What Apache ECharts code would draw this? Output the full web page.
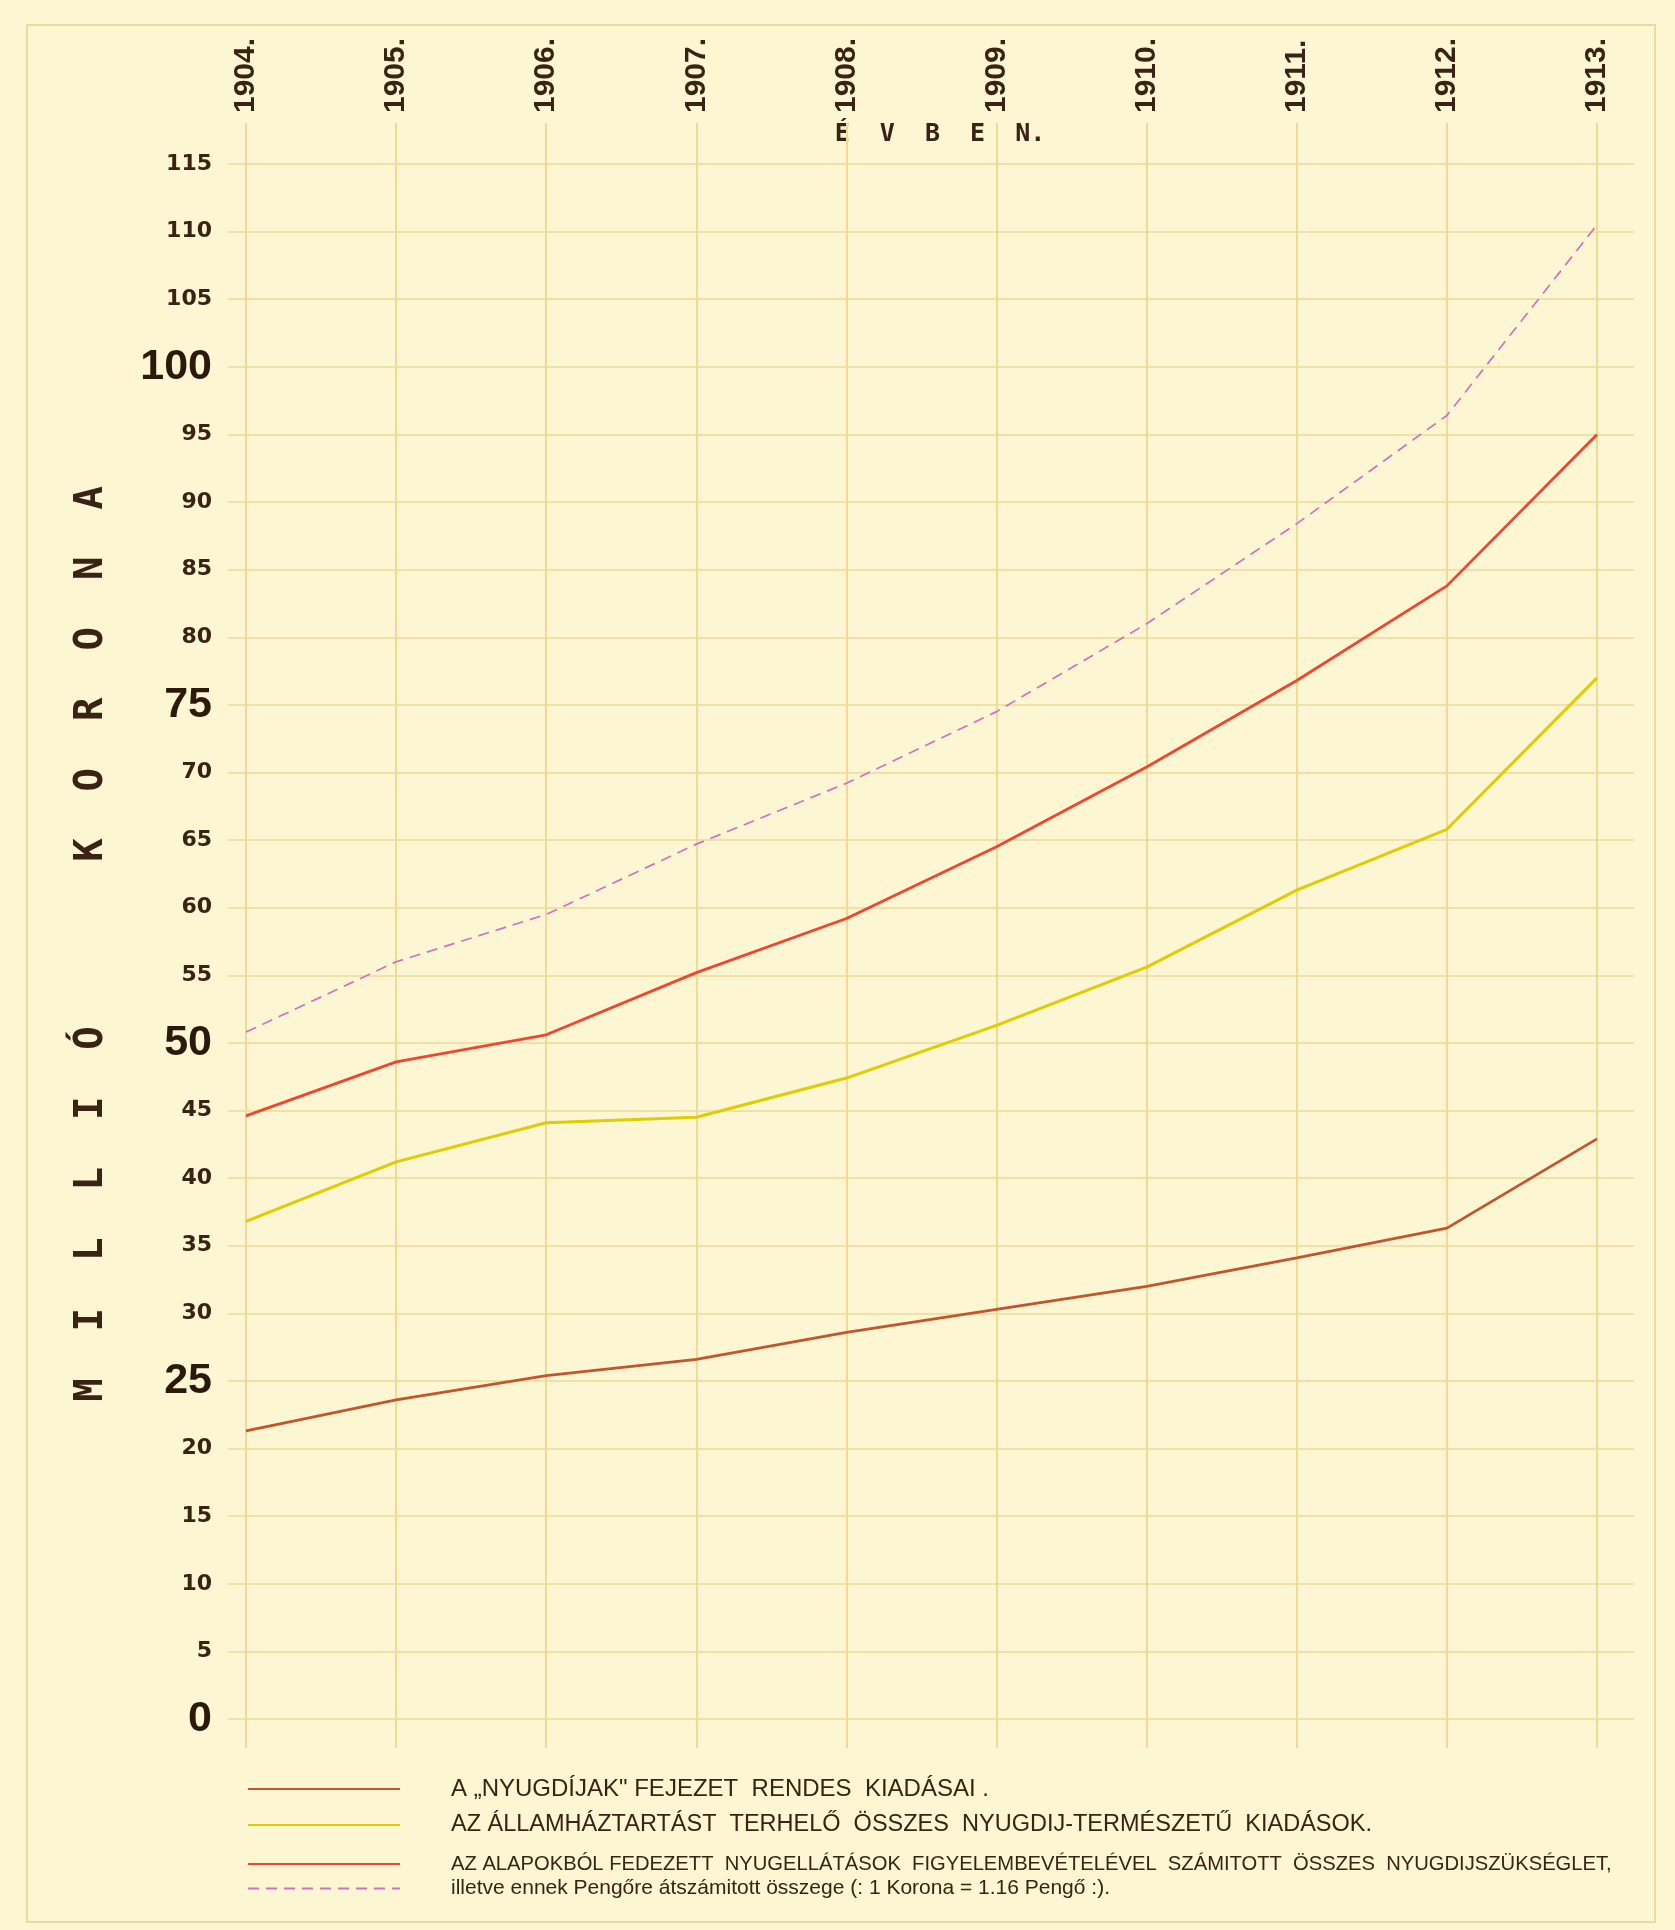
<!DOCTYPE html>
<html>
<head>
<meta charset="utf-8">
<script src="https://cdn.jsdelivr.net/npm/echarts@6/dist/echarts.min.js"></script>
<style>
html,body{margin:0;padding:0;background:#fcf6d3;}
#chart{width:1675px;height:1930px;}
</style>
</head>
<body>
<div id="chart"></div>
<script>
// ---- data (millió korona) ----
const years = ['1904', '1905', '1906', '1907', '1908', '1909', '1910', '1911', '1912', '1913'];
const rendesKiadasai = [21.3, 23.6, 25.4, 26.6, 28.6, 30.3, 32.0, 34.1, 36.3, 42.9];
const osszesKiadasok = [36.8, 41.2, 44.1, 44.5, 47.4, 51.3, 55.6, 61.3, 65.8, 77.0];
const osszesSzukseglet = [44.6, 48.6, 50.6, 55.2, 59.2, 64.5, 70.4, 76.8, 83.8, 95.0];
const pengoSzukseglet = [50.8, 56.0, 59.5, 64.7, 69.2, 74.5, 81.0, 88.4, 96.4, 110.5];
const bigTicks = [0, 25, 50, 75, 100];

const names = [
  'A „NYUGDÍJAK" FEJEZET  RENDES  KIADÁSAI .',
  'AZ ÁLLAMHÁZTARTÁST  TERHELŐ  ÖSSZES  NYUGDIJ-TERMÉSZETŰ  KIADÁSOK.',
  'AZ ALAPOKBÓL FEDEZETT  NYUGELLÁTÁSOK  FIGYELEMBEVÉTELÉVEL  SZÁMITOTT  ÖSSZES  NYUGDIJSZÜKSÉGLET,',
  'illetve ennek Pengőre átszámitott összege (: 1 Korona = 1.16 Pengő :).'
];
const colors = ['#c2552c', '#e0cc00', '#f2452f', '#d070c0'];

const ink = '#3a2314';
const hGrid = '#f1e1a8';
const vGrid = '#f1d996';

function pairs(arr) { return years.map((y, i) => [Number(y), arr[i]]); }

const chart = echarts.init(document.getElementById('chart'), null, {renderer: 'canvas'});

function legendAt(top, idx, fontSize) {
  return {
    show: true, left: 242, top: top, orient: 'horizontal',
    data: [names[idx]],
    itemWidth: 152, itemHeight: 14, selectedMode: false,
    itemStyle: {opacity: 0},
    textStyle: {color: ink, fontSize: fontSize, fontFamily: 'Liberation Sans', padding: [0, 0, 0, 46]}
  };
}

const option = {
  backgroundColor: '#fcf6d3',
  animation: false,
  grid: [
    {left: 228, right: 41, top: 164, bottom: 211},
    {left: 246, right: 78, top: 123, bottom: 182}
  ],
  xAxis: [
    {gridIndex: 0, type: 'value', min: 1903.88, max: 1913.2465, show: false},
    {
      gridIndex: 1, type: 'category', data: years, boundaryGap: false, position: 'top',
      axisLine: {show: false}, axisTick: {show: false},
      axisLabel: {
        rotate: 90, margin: 10, color: ink, fontSize: 30, fontWeight: 'bold',
        fontFamily: 'Liberation Sans', formatter: v => v + '.'
      },
      splitLine: {show: true, lineStyle: {color: vGrid, width: 2}}
    }
  ],
  yAxis: [
    {
      gridIndex: 0, type: 'value', min: 0, max: 115, interval: 5,
      axisLine: {show: false}, axisTick: {show: false},
      splitLine: {show: true, lineStyle: {color: hGrid, width: 1.8}},
      axisLabel: {
        margin: 16,
        formatter: v => bigTicks.indexOf(v) >= 0 ? '{b|' + v + '}' : '{s|' + v + '}',
        rich: {
          b: {fontSize: 43, fontWeight: 'bold', fontFamily: 'Liberation Sans', color: '#2c190c'},
          s: {fontSize: 22, fontWeight: 'bold', fontFamily: 'DejaVu Sans', color: ink}
        }
      }
    },
    {gridIndex: 1, type: 'value', min: 0, max: 1, show: false, splitLine: {show: false}}
  ],
  legend: [
    legendAt(1772, 0, 24),
    legendAt(1808, 1, 23.5),
    legendAt(1849, 2, 20.2),
    legendAt(1873, 3, 21)
  ],
  series: [
    {name: names[0], type: 'line', xAxisIndex: 0, yAxisIndex: 0, data: pairs(rendesKiadasai),
     symbol: 'none', lineStyle: {color: colors[0], width: 2.8}, itemStyle: {color: colors[0]}},
    {name: names[1], type: 'line', xAxisIndex: 0, yAxisIndex: 0, data: pairs(osszesKiadasok),
     symbol: 'none', lineStyle: {color: colors[1], width: 3}, itemStyle: {color: colors[1]}},
    {name: names[2], type: 'line', xAxisIndex: 0, yAxisIndex: 0, data: pairs(osszesSzukseglet),
     symbol: 'none', lineStyle: {color: colors[2], width: 2.8}, itemStyle: {color: colors[2]}},
    {name: names[3], type: 'line', xAxisIndex: 0, yAxisIndex: 0, data: pairs(pengoSzukseglet),
     symbol: 'none', lineStyle: {color: colors[3], width: 1.7, type: [11, 7]}, itemStyle: {color: colors[3]}}
  ],
  graphic: [
    {type: 'rect', silent: true, z: -1,
     shape: {x: 27, y: 25, width: 1628, height: 1897},
     style: {fill: 'none', stroke: '#ecd9a0', lineWidth: 2}},
    {type: 'text', x: 940, y: 134,
     style: {text: 'É  V  B  E  N.', font: 'bold 25px "DejaVu Sans Mono"', fill: ink,
             align: 'center', verticalAlign: 'middle'}},
    {type: 'text', x: 92, y: 944, rotation: Math.PI / 2,
     style: {text: 'M  I  L  L  I  Ó       K  O  R  O  N  A', font: 'bold 39px "DejaVu Sans Mono"',
             fill: ink, align: 'center', verticalAlign: 'middle'}}
  ]
};
chart.setOption(option);
</script>
</body>
</html>
